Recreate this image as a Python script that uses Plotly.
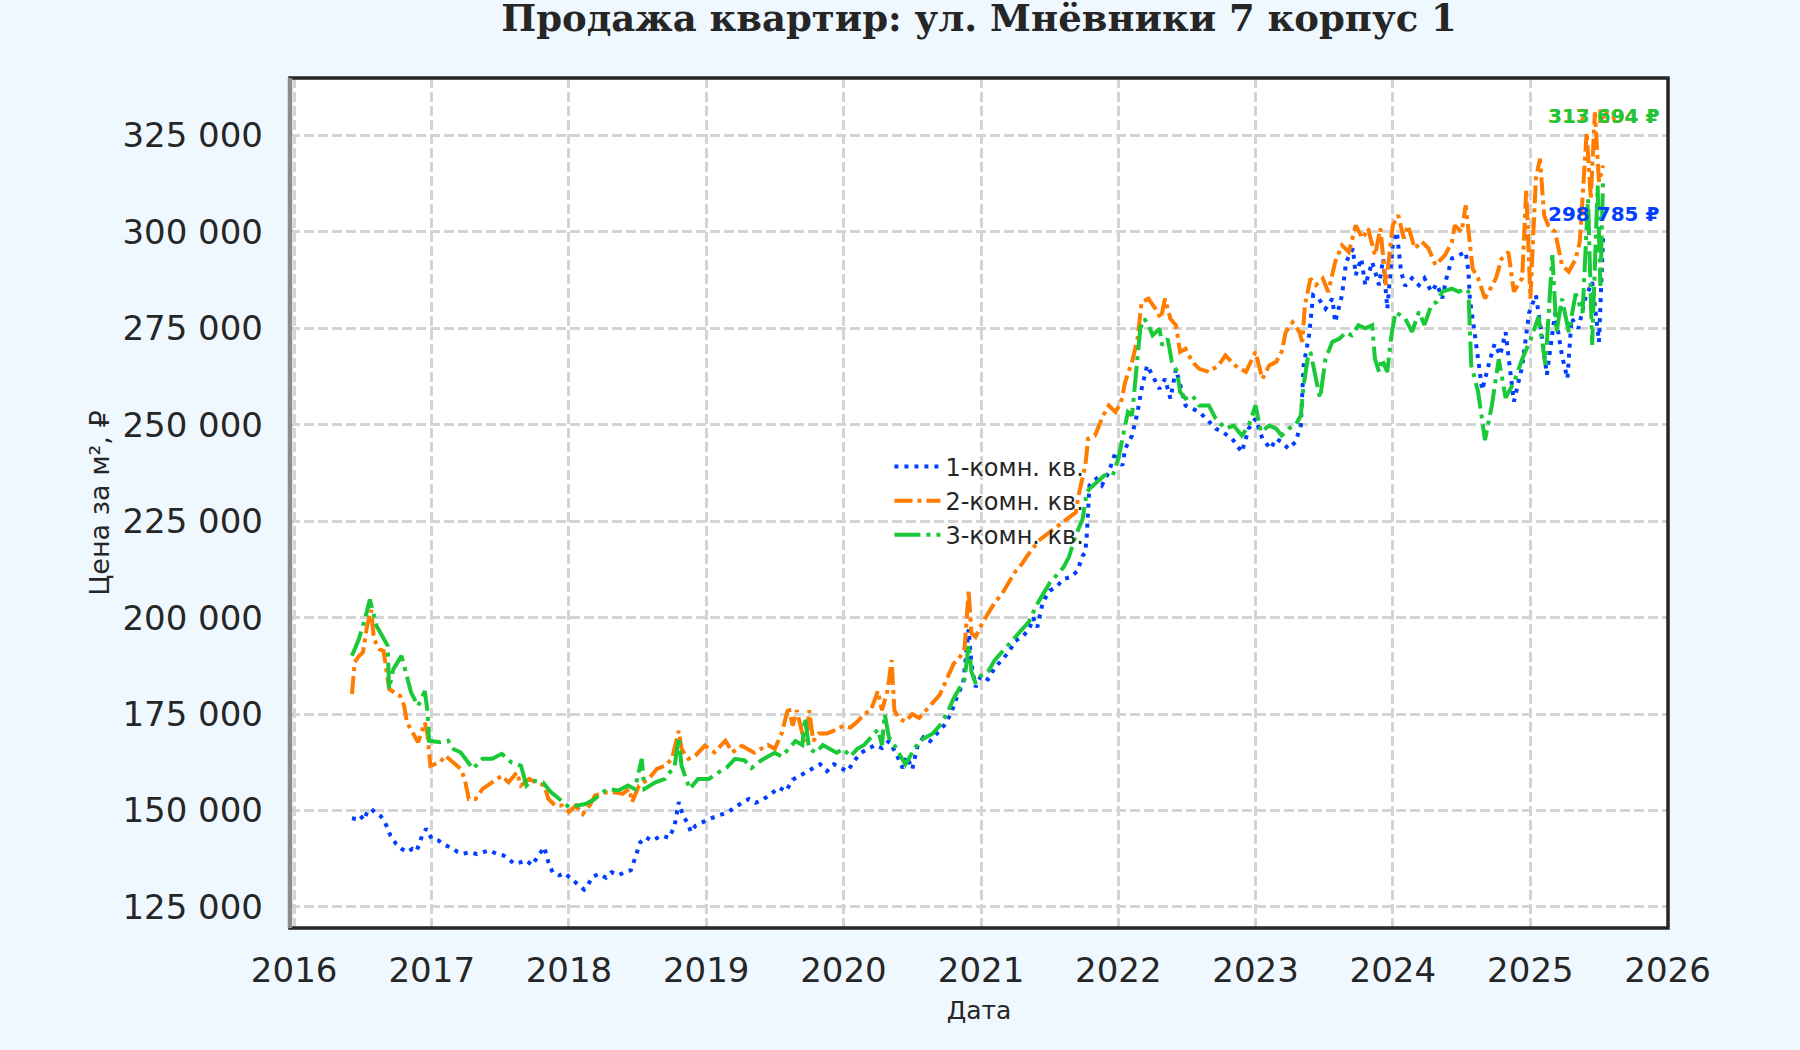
import pandas as pd
import plotly.graph_objects as go

# price per m2 over time: (decimal year, rub/m2)
one_room = [
    (2016.42, 148000), (2016.45, 147800), (2016.48, 148700), (2016.51, 147500), (2016.53, 149600),
    (2016.56, 150400), (2016.60, 149100), (2016.63, 148500), (2016.66, 147000), (2016.70, 143500),
    (2016.74, 141400), (2016.78, 140100), (2016.82, 139200), (2016.86, 140100), (2016.89, 139500),
    (2016.93, 143500), (2016.96, 145300), (2017.00, 142700), (2017.05, 142200), (2017.10, 141000),
    (2017.15, 140200), (2017.19, 139200), (2017.23, 138800), (2017.28, 139200), (2017.33, 138700),
    (2017.37, 139200), (2017.42, 139700), (2017.47, 138800), (2017.52, 138400), (2017.56, 137500),
    (2017.60, 136200), (2017.64, 136500), (2017.69, 137100), (2017.73, 135800), (2017.78, 138400),
    (2017.82, 140500), (2017.85, 136600), (2017.88, 134000), (2017.93, 133200), (2017.97, 133800),
    (2018.00, 132800), (2018.04, 131500), (2018.08, 130200), (2018.11, 129500), (2018.14, 130800),
    (2018.17, 132800), (2018.22, 133600), (2018.27, 132600), (2018.31, 134000), (2018.36, 133200),
    (2018.41, 134100), (2018.45, 134500), (2018.48, 137500), (2018.52, 141800), (2018.56, 143100),
    (2018.60, 142200), (2018.63, 142700), (2018.68, 143500), (2018.73, 142900), (2018.77, 146100),
    (2018.80, 152200), (2018.83, 148700), (2018.86, 147000), (2018.89, 144400), (2018.92, 146000),
    (2018.97, 147000), (2019.02, 147800), (2019.09, 148700), (2019.16, 149600), (2019.23, 151300),
    (2019.31, 153000), (2019.36, 152000), (2019.42, 153000), (2019.48, 154500), (2019.53, 156000),
    (2019.58, 155000), (2019.63, 158000), (2019.68, 159000), (2019.73, 160000), (2019.78, 161200),
    (2019.83, 162000), (2019.88, 160200), (2019.93, 162000), (2019.98, 161000), (2020.03, 160200),
    (2020.08, 163000), (2020.13, 165000), (2020.18, 166000), (2020.23, 167000), (2020.28, 166200),
    (2020.33, 168000), (2020.38, 165000), (2020.43, 161000), (2020.46, 164000), (2020.50, 160700),
    (2020.54, 167000), (2020.58, 169000), (2020.63, 168000), (2020.68, 170000), (2020.73, 172000),
    (2020.78, 175000), (2020.83, 180000), (2020.87, 183000), (2020.91, 197000), (2020.93, 188000),
    (2020.96, 182000), (2021.00, 185000), (2021.05, 184000), (2021.10, 187000), (2021.15, 189000),
    (2021.20, 191000), (2021.25, 194000), (2021.30, 195000), (2021.35, 197000), (2021.38, 200000),
    (2021.41, 197500), (2021.45, 204000), (2021.50, 207000), (2021.55, 208000), (2021.60, 210000),
    (2021.65, 210500), (2021.70, 212000), (2021.74, 216000), (2021.76, 217000), (2021.77, 221300),
    (2021.79, 234300), (2021.84, 236000), (2021.88, 234300), (2021.93, 237700), (2021.98, 242900),
    (2022.03, 239400), (2022.05, 243800), (2022.10, 247200), (2022.14, 253300), (2022.17, 259300),
    (2022.21, 265400), (2022.25, 262800), (2022.30, 259300), (2022.34, 261900), (2022.38, 256800),
    (2022.42, 264500), (2022.45, 260200), (2022.49, 255000), (2022.54, 254200), (2022.59, 253300),
    (2022.64, 251600), (2022.71, 249000), (2022.76, 248100), (2022.83, 246400), (2022.90, 242900),
    (2022.95, 249000), (2023.00, 251600), (2023.05, 246400), (2023.11, 243800), (2023.15, 246400),
    (2023.19, 245500), (2023.24, 243800), (2023.29, 245500), (2023.33, 249800), (2023.35, 265400),
    (2023.39, 273200), (2023.42, 283600), (2023.46, 282700), (2023.51, 280100), (2023.56, 282700),
    (2023.58, 276600), (2023.63, 283600), (2023.66, 292200), (2023.71, 295700), (2023.73, 288800),
    (2023.77, 293100), (2023.80, 286200), (2023.85, 292200), (2023.90, 286200), (2023.93, 293000),
    (2023.96, 280100), (2024.00, 296500), (2024.03, 300000), (2024.06, 289700), (2024.09, 286000),
    (2024.14, 288000), (2024.19, 286200), (2024.23, 288000), (2024.28, 284500), (2024.32, 286500),
    (2024.36, 282800), (2024.39, 288000), (2024.43, 293100), (2024.48, 294000), (2024.53, 294800),
    (2024.55, 289700), (2024.56, 282700), (2024.60, 272400), (2024.63, 265000), (2024.65, 259000),
    (2024.70, 266000), (2024.74, 271000), (2024.78, 268000), (2024.82, 274000), (2024.88, 256000),
    (2024.91, 260000), (2024.94, 265000), (2024.99, 279000), (2025.04, 283600), (2025.08, 274000),
    (2025.12, 263000), (2025.18, 279000), (2025.23, 268000), (2025.27, 262000), (2025.30, 277600),
    (2025.35, 275000), (2025.40, 282700), (2025.45, 287000), (2025.50, 271500), (2025.53, 298785),
]

two_room = [
    (2016.42, 180200), (2016.44, 188400), (2016.47, 190000), (2016.50, 191000), (2016.53, 197800),
    (2016.56, 202000), (2016.58, 194400), (2016.62, 191800), (2016.65, 191400), (2016.69, 181500),
    (2016.73, 180600), (2016.77, 179700), (2016.80, 177100), (2016.82, 172800), (2016.86, 170300),
    (2016.90, 167700), (2016.95, 172800), (2016.97, 169400), (2016.99, 161600), (2017.06, 162500),
    (2017.10, 164200), (2017.15, 162500), (2017.21, 160800), (2017.24, 158200), (2017.27, 153000),
    (2017.32, 153000), (2017.37, 155600), (2017.44, 157300), (2017.51, 159000), (2017.56, 157300),
    (2017.62, 159900), (2017.65, 156500), (2017.71, 158200), (2017.76, 157300), (2017.82, 156500),
    (2017.85, 153000), (2017.90, 151300), (2017.95, 151300), (2018.00, 149600), (2018.05, 151300),
    (2018.10, 149100), (2018.15, 151300), (2018.19, 153900), (2018.27, 154700), (2018.34, 154700),
    (2018.39, 154300), (2018.44, 155600), (2018.46, 152200), (2018.51, 156500), (2018.58, 158200),
    (2018.64, 160800), (2018.70, 161600), (2018.75, 163400), (2018.80, 170700), (2018.82, 166000),
    (2018.87, 163400), (2018.92, 164200), (2018.99, 166800), (2019.06, 165100), (2019.14, 168100),
    (2019.19, 165100), (2019.26, 166800), (2019.30, 166000), (2019.35, 165000), (2019.40, 166000),
    (2019.45, 167000), (2019.50, 166000), (2019.55, 170000), (2019.60, 177000), (2019.63, 172000),
    (2019.66, 176000), (2019.70, 170000), (2019.73, 168000), (2019.75, 176000), (2019.78, 168000),
    (2019.82, 170000), (2019.88, 170000), (2019.95, 171000), (2020.00, 172000), (2020.05, 171500),
    (2020.10, 173000), (2020.15, 175000), (2020.20, 176000), (2020.25, 181000), (2020.28, 176000),
    (2020.32, 181000), (2020.35, 189000), (2020.37, 176000), (2020.40, 174000), (2020.45, 173000),
    (2020.50, 175000), (2020.55, 174000), (2020.60, 176000), (2020.65, 178000), (2020.70, 180000),
    (2020.75, 184000), (2020.80, 188000), (2020.85, 190000), (2020.88, 192000), (2020.91, 207000),
    (2020.93, 196000), (2020.96, 195000), (2021.00, 198000), (2021.05, 201000), (2021.10, 204000),
    (2021.15, 206000), (2021.20, 209000), (2021.25, 212000), (2021.30, 214000), (2021.33, 215700),
    (2021.42, 220000), (2021.52, 222600), (2021.62, 225200), (2021.69, 227300), (2021.71, 231700),
    (2021.76, 239400), (2021.78, 246400), (2021.83, 247200), (2021.89, 252400), (2021.93, 255000),
    (2021.98, 253300), (2022.02, 255900), (2022.05, 261100), (2022.10, 266300), (2022.14, 272300),
    (2022.17, 281800), (2022.22, 282700), (2022.27, 280100), (2022.31, 277500), (2022.34, 282700),
    (2022.38, 277500), (2022.42, 275800), (2022.45, 268900), (2022.49, 269700), (2022.54, 266300),
    (2022.59, 264500), (2022.66, 263700), (2022.73, 265400), (2022.78, 268000), (2022.85, 265400),
    (2022.93, 263700), (2023.00, 268900), (2023.05, 261900), (2023.10, 265400), (2023.15, 266300),
    (2023.19, 268900), (2023.22, 274000), (2023.27, 276600), (2023.32, 274000), (2023.34, 271500),
    (2023.36, 281000), (2023.40, 287900), (2023.44, 286200), (2023.49, 287900), (2023.53, 284400),
    (2023.58, 292200), (2023.63, 296500), (2023.68, 294800), (2023.73, 301700), (2023.78, 298300),
    (2023.82, 300900), (2023.87, 293900), (2023.91, 300900), (2023.95, 286200), (2024.00, 301700),
    (2024.04, 304300), (2024.08, 298300), (2024.11, 301700), (2024.16, 295700), (2024.21, 297500),
    (2024.26, 295700), (2024.31, 291400), (2024.38, 294000), (2024.43, 297400), (2024.45, 301700),
    (2024.50, 300000), (2024.53, 306900), (2024.58, 290500), (2024.62, 288000), (2024.67, 282700),
    (2024.75, 288000), (2024.79, 293000), (2024.84, 294800), (2024.88, 284500), (2024.94, 288000),
    (2024.97, 311000), (2025.00, 282700), (2025.04, 313800), (2025.07, 319000), (2025.10, 304300),
    (2025.13, 301700), (2025.18, 300000), (2025.23, 291400), (2025.28, 289700), (2025.33, 293000),
    (2025.36, 297400), (2025.41, 325800), (2025.44, 308600), (2025.47, 331000), (2025.50, 313000),
    (2025.53, 317204),
]

three_room = [
    (2016.42, 190100), (2016.47, 194400), (2016.52, 200400), (2016.55, 204700), (2016.60, 197800),
    (2016.64, 195300), (2016.68, 192700), (2016.69, 181500), (2016.72, 186600), (2016.78, 190100),
    (2016.81, 185800), (2016.85, 180600), (2016.90, 177100), (2016.95, 181000), (2016.97, 175400),
    (2016.98, 168100), (2017.06, 167700), (2017.12, 168100), (2017.16, 165900), (2017.21, 165100),
    (2017.30, 160800), (2017.37, 163400), (2017.44, 163400), (2017.51, 164700), (2017.58, 162500),
    (2017.65, 161600), (2017.69, 156500), (2017.73, 157800), (2017.81, 157300), (2017.87, 154700),
    (2017.93, 153000), (2018.00, 150900), (2018.06, 151300), (2018.12, 151700), (2018.19, 153000),
    (2018.24, 154700), (2018.29, 155600), (2018.36, 155200), (2018.43, 156500), (2018.48, 155600),
    (2018.53, 163400), (2018.55, 155600), (2018.63, 157300), (2018.70, 158200), (2018.77, 161600),
    (2018.80, 169000), (2018.82, 161600), (2018.88, 155600), (2018.94, 158200), (2019.02, 158200),
    (2019.09, 159900), (2019.15, 161200), (2019.21, 163400), (2019.28, 163000), (2019.33, 161000),
    (2019.40, 163000), (2019.45, 164000), (2019.50, 165000), (2019.55, 164000), (2019.60, 166000),
    (2019.65, 168000), (2019.70, 167000), (2019.72, 174000), (2019.75, 166000), (2019.80, 165000),
    (2019.85, 167000), (2019.90, 166000), (2019.95, 165000), (2020.00, 166000), (2020.05, 164000),
    (2020.10, 166000), (2020.15, 167000), (2020.20, 169000), (2020.25, 171000), (2020.28, 167000),
    (2020.30, 175000), (2020.33, 169000), (2020.37, 167000), (2020.40, 165000), (2020.45, 162000),
    (2020.50, 165000), (2020.55, 168000), (2020.60, 169000), (2020.65, 170000), (2020.70, 172000),
    (2020.75, 175000), (2020.80, 179000), (2020.85, 182000), (2020.88, 184000), (2020.91, 193000),
    (2020.93, 186000), (2020.96, 183000), (2021.00, 185000), (2021.05, 186000), (2021.10, 189000),
    (2021.15, 191000), (2021.20, 193000), (2021.25, 195000), (2021.30, 197000), (2021.35, 199000),
    (2021.40, 203000), (2021.45, 206000), (2021.50, 209000), (2021.55, 211000), (2021.60, 213000),
    (2021.64, 215700), (2021.69, 221300), (2021.74, 225600), (2021.77, 232500), (2021.79, 233400),
    (2021.84, 235100), (2021.90, 236900), (2021.96, 236900), (2022.00, 241200), (2022.04, 248100),
    (2022.07, 253300), (2022.10, 252400), (2022.13, 264500), (2022.16, 274900), (2022.19, 277500),
    (2022.22, 275800), (2022.25, 273200), (2022.30, 274900), (2022.32, 270600), (2022.36, 272300),
    (2022.39, 266300), (2022.43, 263700), (2022.45, 258500), (2022.49, 256800), (2022.54, 257600),
    (2022.59, 255000), (2022.66, 255000), (2022.71, 251600), (2022.78, 249000), (2022.84, 249800),
    (2022.90, 247200), (2022.95, 249800), (2023.00, 255000), (2023.04, 248100), (2023.10, 249800),
    (2023.15, 249000), (2023.19, 247200), (2023.24, 249000), (2023.29, 249800), (2023.33, 252400),
    (2023.35, 260200), (2023.38, 267100), (2023.40, 268900), (2023.44, 261900), (2023.47, 256800),
    (2023.51, 267100), (2023.56, 271500), (2023.61, 272300), (2023.66, 274000), (2023.70, 273200),
    (2023.75, 275800), (2023.80, 275000), (2023.85, 275800), (2023.87, 267100), (2023.90, 263700),
    (2023.92, 267100), (2023.96, 263700), (2023.99, 273200), (2024.02, 279200), (2024.09, 277600),
    (2024.14, 274100), (2024.19, 279300), (2024.23, 275900), (2024.28, 281000), (2024.32, 281900),
    (2024.36, 284500), (2024.43, 285300), (2024.48, 284500), (2024.53, 285300), (2024.55, 284500),
    (2024.57, 265500), (2024.62, 258600), (2024.67, 246000), (2024.72, 255000), (2024.77, 267000),
    (2024.82, 257000), (2024.88, 261000), (2024.94, 267000), (2025.00, 272000), (2025.06, 278000),
    (2025.11, 265500), (2025.16, 294000), (2025.19, 274000), (2025.23, 282700), (2025.28, 274000),
    (2025.33, 284000), (2025.38, 279000), (2025.42, 308600), (2025.45, 270700), (2025.49, 312000),
    (2025.51, 286000), (2025.53, 313694),
]

series_names = ["1-комн. кв.", "2-комн. кв.", "3-комн. кв."]
colors = ["#023EFF", "#FF7C00", "#1AC938"]
dashes = ["4px,6px", "18px,5px,4px,5px", "26px,6px,4px,6px"]
label_shift = [23, 50, 63]  # px above the last point


def to_date(y):
    year = int(y)
    start = pd.Timestamp(year=year, month=1, day=1)
    days = (pd.Timestamp(year=year + 1, month=1, day=1) - start).days
    return start + pd.Timedelta(days=(y - year) * days)


def rub(v):
    return f"{v:,}".replace(",", " ") + " ₽"


fig = go.Figure()
all_series = [one_room, two_room, three_room]
for pts, name, col, dash in zip(all_series, series_names, colors, dashes):
    fig.add_trace(go.Scatter(
        x=[to_date(t) for t, _ in pts],
        y=[v for _, v in pts],
        mode="lines",
        name=name,
        line=dict(color=col, width=4, dash=dash),
    ))

# last-value labels (orange first so green sits on top, like the original)
for i in [0, 1, 2]:
    t, v = all_series[i][-1]
    fig.add_annotation(
        x=to_date(t), y=v, yshift=label_shift[i],
        text="<b>" + rub(v) + "</b>", showarrow=False,
        xanchor="center", yanchor="middle",
        font=dict(family="DejaVu Sans", size=20, color=colors[i]),
    )

grid = dict(showgrid=True, gridcolor="#D4D4D4", gridwidth=2.5, griddash="10px,4px",
            zeroline=False, showline=False, ticks="",
            tickfont=dict(family="DejaVu Sans", size=34, color="#262626"))

fig.update_layout(
    width=1800, height=1050, autosize=False,
    paper_bgcolor="#F0F8FF", plot_bgcolor="#FFFFFF",
    margin=dict(l=290, r=132, t=78, b=122),
    separators=". ",
    font=dict(family="DejaVu Sans", color="#262626"),
    title=dict(
        text="<b>Продажа квартир: ул. Мнёвники 7 корпус 1</b>",
        font=dict(family="DejaVu Serif", size=37, color="#262626"),
        x=0.5, xref="paper", xanchor="center",
        y=1 - 18 / 1050, yref="container", yanchor="middle",
    ),
    xaxis=dict(
        grid, type="date", range=["2015-12-21", "2026-01-02"],
        dtick="M12", tick0="2016-01-01", tickformat="%Y", ticklabelstandoff=19,
        title=dict(text="Дата", font=dict(size=25, color="#262626"), standoff=12),
    ),
    yaxis=dict(
        grid, range=[119550, 339900], dtick=25000, tick0=0, tickformat=",d",
        ticklabelstandoff=26,
        title=dict(text="Цена за м², ₽", font=dict(size=27, color="#262626"), standoff=4),
    ),
    legend=dict(
        x=0.435, y=0.569, xanchor="left", yanchor="top", itemwidth=46,
        bgcolor="rgba(0,0,0,0)", borderwidth=0,
        font=dict(family="DejaVu Sans", size=24, color="#262626"),
    ),
    shapes=[
        dict(type="rect", xref="x domain", yref="y domain", x0=0, x1=1, y0=0, y1=1,
             line=dict(color="#262626", width=3.5), layer="above"),
        dict(type="line", xref="x domain", yref="y domain", x0=0, x1=0, y0=0, y1=1,
             line=dict(color="#8C8C8C", width=4.5), layer="above"),
    ],
)

fig.write_html("out.html", config={"displayModeBar": False},
               post_script="document.body.style.margin='0';")
